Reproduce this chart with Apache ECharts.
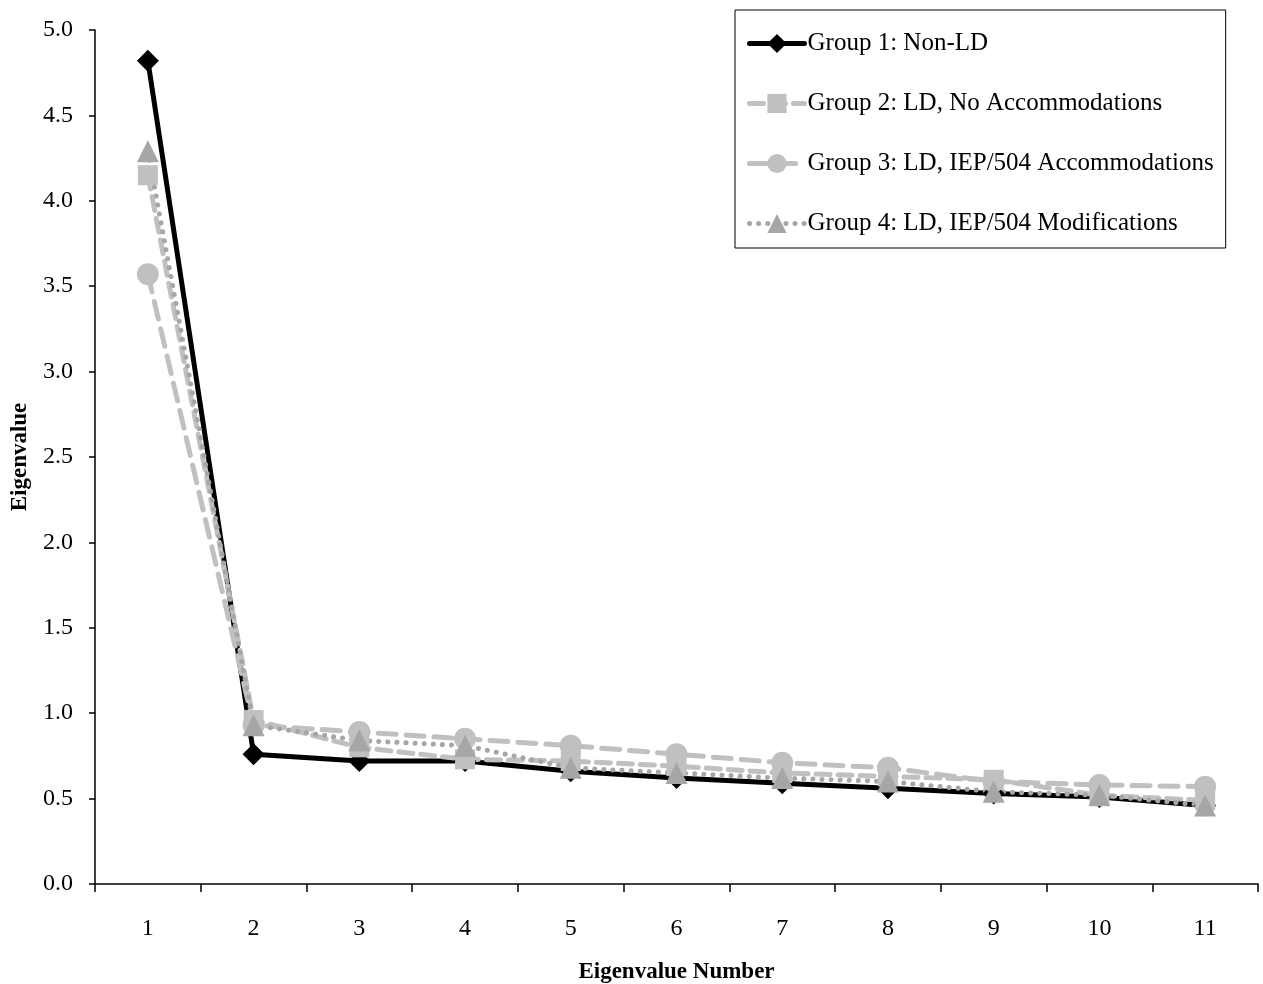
<!DOCTYPE html>
<html>
<head>
<meta charset="utf-8">
<script src="https://cdn.jsdelivr.net/npm/echarts@6/dist/echarts.min.js"></script>
<style>
  html, body { margin: 0; padding: 0; background: #fff; }
  #main { width: 1263px; height: 984px; }
</style>
</head>
<body>
<div id="main"></div>
<script>
var eigenNumbers = ['1', '2', '3', '4', '5', '6', '7', '8', '9', '10', '11'];
var group1 = [4.82, 0.76, 0.72, 0.72, 0.66, 0.62, 0.59, 0.56, 0.53, 0.51, 0.46];
var group2 = [4.15, 0.96, 0.80, 0.73, 0.72, 0.69, 0.65, 0.63, 0.61, 0.52, 0.49];
var group3 = [3.57, 0.93, 0.89, 0.85, 0.81, 0.76, 0.71, 0.68, 0.60, 0.58, 0.57];
var group4 = [4.29, 0.93, 0.84, 0.81, 0.68, 0.65, 0.62, 0.60, 0.54, 0.52, 0.46];
var groupNames = [
  'Group 1: Non-LD',
  'Group 2: LD, No Accommodations',
  'Group 3: LD, IEP/504 Accommodations',
  'Group 4: LD, IEP/504 Modifications'
];

var font = '"Liberation Serif", "Times New Roman", serif';

// colour, dash, width, symbol, size per group
var styles = [
  ['#000000', 'solid', 5, 'diamond', 22],
  ['#c0c0c0', [14, 8], 5, 'rect', 20],
  ['#c0c0c0', [18, 10], 5, 'circle', 22],
  ['#a6a6a6', [0.1, 9], 5, 'triangle', 22]
];
var groupData = [group1, group2, group3, group4];

var series = groupNames.map(function(name, i){
  var s = styles[i];
  return {
    name: name,
    type: 'line',
    data: groupData[i],
    symbol: s[3],
    symbolSize: s[4],
    showAllSymbol: true,
    animation: false,
    itemStyle: { color: s[0] },
    lineStyle: { color: s[0], width: s[2], type: s[1], cap: 'round' }
  };
});

var legendData = groupNames.map(function(name, i){
  var s = styles[i];
  return {
    name: name,
    itemStyle: { color: s[0] },
    lineStyle: { color: s[0], width: s[2], type: s[1], cap: 'round' }
  };
});

var chartDom = document.getElementById('main');
var myChart = echarts.init(chartDom);

var option = {
  backgroundColor: '#fff',
  textStyle: { fontFamily: font },
  grid: { left: 95, top: 30, right: 5, bottom: 100, outerBoundsMode: 'none', containLabel: false },
  legend: {
    orient: 'vertical',
    left: 735,
    top: 10,
    padding: [21, 12, 12, 12],
    borderColor: '#000',
    borderWidth: 1,
    itemGap: 35,
    itemWidth: 55,
    itemHeight: 24,
    textStyle: { fontFamily: font, fontSize: 25, color: '#000', padding: [0, 0, 0, -2] },
    data: legendData
  },
  xAxis: {
    type: 'category',
    data: eigenNumbers,
    boundaryGap: true,
    name: 'Eigenvalue Number',
    nameLocation: 'middle',
    nameGap: 77,
    nameTextStyle: { fontFamily: font, fontSize: 23, fontWeight: 'bold', color: '#000' },
    axisLine: { lineStyle: { color: '#000', width: 1.5 } },
    axisTick: { show: true, inside: false, length: 8, alignWithLabel: false, lineStyle: { color: '#000', width: 1.5 } },
    axisLabel: { fontFamily: font, fontSize: 24, color: '#000', margin: 33 },
    splitLine: { show: false }
  },
  yAxis: {
    type: 'value',
    min: 0,
    max: 5,
    interval: 0.5,
    name: 'Eigenvalue',
    nameLocation: 'middle',
    nameGap: 63,
    nameRotate: 90,
    nameTextStyle: { fontFamily: font, fontSize: 23, fontWeight: 'bold', color: '#000' },
    axisLine: { show: true, lineStyle: { color: '#000', width: 1.5 } },
    axisTick: { show: true, inside: false, length: 6, lineStyle: { color: '#000', width: 1.5 } },
    axisLabel: {
      fontFamily: font, fontSize: 24, color: '#000', margin: 22,
      formatter: function(v){ return v.toFixed(1); }
    },
    splitLine: { show: false }
  },
  series: series
};

myChart.setOption(option);
</script>
</body>
</html>
